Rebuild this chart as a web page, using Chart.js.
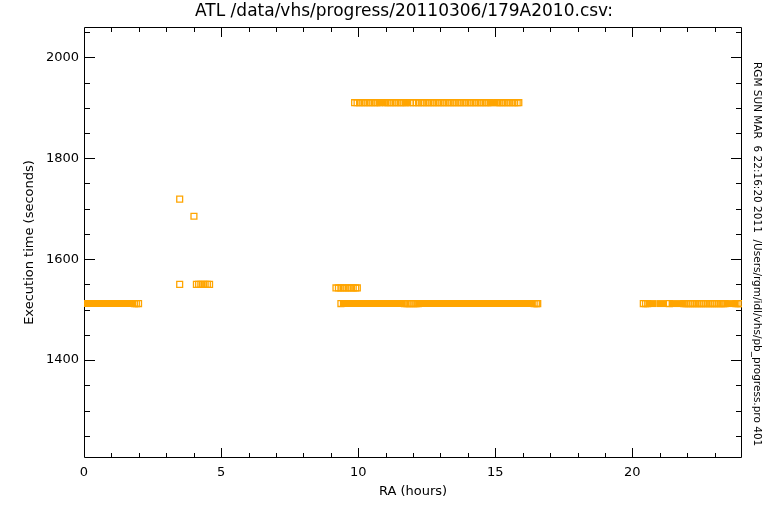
<!DOCTYPE html>
<html>
<head>
<meta charset="utf-8">
<title>ATL execution time vs RA</title>
<script src="https://cdn.jsdelivr.net/npm/chart.js@4.4.1/dist/chart.umd.min.js"></script>
<style>
  html, body { margin: 0; padding: 0; background: #fff; }
  canvas { display: block; }
</style>
</head>
<body>
<canvas id="plot" width="768" height="512"></canvas>
<script>
const plotTitle = 'ATL /data/vhs/progress/20110306/179A2010.csv:';
const stampText = 'RGM SUN MAR  6 22:16:20 2011  /Users/rgm/idl/vhs/pb_progress.pro 401';

const xTicks = [0, 5, 10, 15, 20];
const yTicks = [1400, 1600, 1800, 2000];

// resolved single observations, RA (hours) per execution time level (s)
const ra1512 = [1.84, 1.91, 1.99, 9.37, 11.69, 11.78, 11.86, 11.94, 12.03, 12.11, 12.19,
  16.42, 16.50, 16.55, 20.40, 20.48, 20.56, 21.35,
  21.88, 21.96, 22.04, 22.12, 22.20, 22.28, 22.36, 22.44, 22.52, 22.60, 22.68, 22.76,
  22.84, 22.92, 23.00, 23.08, 23.16, 23.24, 23.32, 23.38, 23.78, 23.86, 23.94];
const ra1910 = [9.87, 9.96, 10.05, 10.14, 10.23, 10.32, 10.41, 10.50, 10.59, 10.68, 10.77,
  11.00, 11.09, 11.18, 11.27, 11.36, 11.45, 11.54, 11.63, 11.72, 11.90, 12.02, 12.12, 12.20,
  12.30, 12.39, 12.48, 12.57, 12.66, 12.75, 12.84, 12.93, 13.02, 13.11, 13.20, 13.29, 13.38,
  13.47, 13.56, 13.65, 13.74, 13.83, 13.92, 14.01, 14.10, 14.19, 14.28, 14.37, 14.46, 14.55,
  14.64, 14.73, 14.82, 15.08, 15.17, 15.26, 15.35, 15.44, 15.53, 15.62, 15.71, 15.80, 15.86];
const ra1543 = [9.19, 9.28, 9.37, 9.46, 9.55, 9.64, 9.73, 9.82, 9.91, 9.97];
const ra1550 = [3.49, 4.10, 4.18, 4.26, 4.34, 4.42, 4.50, 4.58];
const raOther = [3.49, 4.01];
const timeOther = [1719, 1685];

// runs of observations packed closer than one symbol width
const runStart = [0.07, 9.46, 12.23, 20.62, 21.00, 21.45, 23.45, 10.82, 11.78, 14.88];
const runEnd   = [1.77, 11.61, 16.35, 20.74, 21.10, 21.80, 23.70, 10.92, 11.80, 15.00];
const runTime  = [1512, 1512, 1512, 1512, 1512, 1512, 1512, 1910, 1910, 1910];

const ORANGE = '#ffa500';
const FONT = 'DejaVu Sans';

function level(raList, t) {
  return raList.map(ra => ({x: ra, y: t}));
}

const points = [].concat(
  level(ra1512, 1512), level(ra1910, 1910), level(ra1543, 1543), level(ra1550, 1550),
  raOther.map((ra, i) => ({x: ra, y: timeOther[i]}))
);

const datasets = [{
  data: points,
  pointStyle: 'rect',
  pointRadius: 4.15,
  pointBorderWidth: 1.3,
  pointBorderColor: ORANGE,
  pointBackgroundColor: 'rgba(0,0,0,0)',
  clip: 0
}];
runStart.forEach((s, i) => {
  datasets.push({
    type: 'line',
    data: [{x: s, y: runTime[i]}, {x: runEnd[i], y: runTime[i]}],
    borderColor: ORANGE,
    borderWidth: 7,
    borderCapStyle: 'square',
    pointRadius: 0,
    clip: 0
  });
});

// IDL style box with inward ticks, title and time stamp
const idlFrame = {
  id: 'idlFrame',
  beforeDatasetsDraw(chart) {
    const {ctx, chartArea: a, scales: {x, y}} = chart;
    ctx.save();
    ctx.strokeStyle = '#000';
    ctx.lineWidth = 1;
    ctx.beginPath();
    ctx.rect(a.left + 0.5, a.top + 0.5, a.right - a.left - 1, a.bottom - a.top - 1);
    for (let v = 1; v < 24; v++) {
      const px = Math.round(x.getPixelForValue(v)) + 0.5;
      const len = xTicks.includes(v) ? 10 : 5;
      ctx.moveTo(px, a.bottom); ctx.lineTo(px, a.bottom - len);
      ctx.moveTo(px, a.top); ctx.lineTo(px, a.top + len);
    }
    for (let v = 1250; v < y.max; v += 50) {
      const py = Math.round(y.getPixelForValue(v)) + 0.5;
      const len = yTicks.includes(v) ? 11 : 6;
      ctx.moveTo(a.left, py); ctx.lineTo(a.left + len, py);
      ctx.moveTo(a.right, py); ctx.lineTo(a.right - len, py);
    }
    ctx.stroke();
    ctx.restore();
  },
  afterDraw(chart) {
    const {ctx} = chart;
    ctx.save();
    ctx.fillStyle = '#000';
    ctx.font = '17px "' + FONT + '"';
    ctx.textAlign = 'center';
    ctx.textBaseline = 'middle';
    ctx.fillText(plotTitle, 404, 12);
    ctx.font = '10.5px "' + FONT + '"';
    ctx.translate(757, 62);
    ctx.rotate(Math.PI / 2);
    ctx.textAlign = 'left';
    ctx.fillText(stampText, 0, 0);
    ctx.restore();
  }
};

new Chart(document.getElementById('plot'), {
  type: 'scatter',
  data: {datasets: datasets},
  plugins: [idlFrame],
  options: {
    responsive: false,
    animation: false,
    events: [],
    layout: {padding: {top: 27, right: 26, left: 0, bottom: 0}},
    plugins: {legend: {display: false}, tooltip: {enabled: false}, title: {display: false}},
    scales: {
      x: {
        type: 'linear',
        min: 0,
        max: 24,
        grid: {display: false, drawTicks: false},
        border: {display: false},
        afterBuildTicks: s => { s.ticks = xTicks.map(v => ({value: v})); },
        afterFit: s => { s.height = 54; },
        ticks: {color: '#000', padding: 7, maxRotation: 0, font: {family: FONT, size: 13},
          callback: v => String(v)},
        title: {display: true, text: 'RA (hours)', color: '#000', padding: {top: 0, bottom: 13},
          font: {family: FONT, size: 13}}
      },
      y: {
        type: 'linear',
        min: 1206,
        max: 2060,
        grid: {display: false, drawTicks: false},
        border: {display: false},
        afterBuildTicks: s => { s.ticks = yTicks.map(v => ({value: v})); },
        afterFit: s => { s.width = 84; },
        ticks: {color: '#000', padding: 5, font: {family: FONT, size: 13},
          callback: v => String(v)},
        title: {display: true, text: 'Execution time (seconds)', color: '#000', padding: {top: 22, bottom: 0},
          font: {family: FONT, size: 13}}
      }
    }
  }
});
</script>
</body>
</html>
